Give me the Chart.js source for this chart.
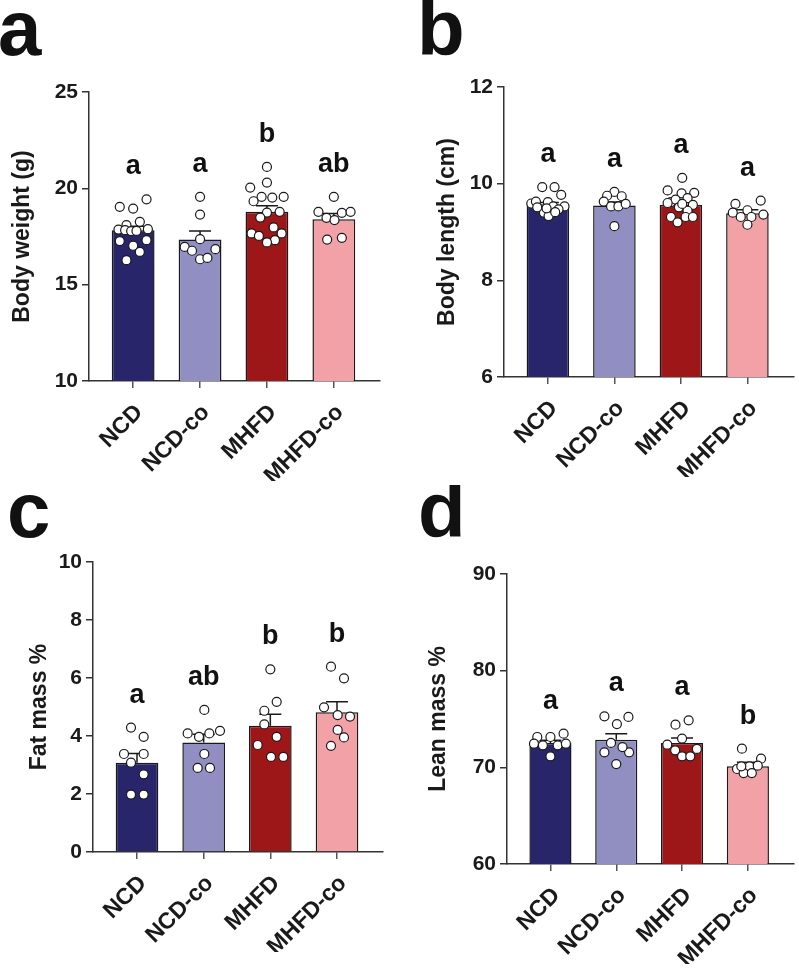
<!DOCTYPE html>
<html>
<head>
<meta charset="utf-8">
<script src="https://cdn.jsdelivr.net/npm/chart.js@4.4.1/dist/chart.umd.min.js"></script>
<style>
    body { margin: 0; background: #fff; width: 799px; height: 970px; position: relative; overflow: hidden; }
    canvas { position: absolute; }
</style>
</head>
<body>
<canvas id="graf-a" width="400" height="495" style="left:0;top:0"></canvas>
<canvas id="graf-b" width="399" height="495" style="left:400px;top:0"></canvas>
<canvas id="graf-c" width="400" height="485" style="left:0;top:485px"></canvas>
<canvas id="graf-d" width="399" height="485" style="left:400px;top:485px"></canvas>
<script>
// Grupos e cores
const GRUPOS = ['NCD', 'NCD-co', 'MHFD', 'MHFD-co'];
const CORES = ['#28256b', '#918fc2', '#9d1719', '#f2a2a6'];

// a - Body weight (g)
const pesoMedia = [17.83, 17.34, 18.78, 18.40];
const pesoEpm = [0.20, 0.44, 0.31, 0.29];
const pesoLetras = ['a', 'a', 'b', 'ab'];
const pesoPontos = [
    [19.04, 18.95, 19.43, 18.09, 18.26, 17.86, 17.83, 17.78, 17.79, 17.88, 17.26, 17.31, 17.02, 16.70, 16.27],
    [19.56, 18.64, 17.36, 16.96, 16.76, 16.84, 16.32, 16.39],
    [21.11, 20.30, 20.04, 19.56, 19.52, 19.56, 19.33, 18.74, 18.78, 18.48, 17.97, 17.66, 17.53, 17.66, 17.31, 17.19],
    [19.56, 18.78, 18.73, 18.78, 18.47, 18.35, 17.34, 17.43]
];
const pesoDesvio = [
    [-0.20, 0, 0.20, -0.10, 0.10, -0.22, -0.12, -0.03, 0.05, 0.22, -0.20, 0.20, 0, 0.10, -0.10],
    [0, 0, 0, -0.23, -0.12, 0.23, 0, 0.11],
    [0, 0, -0.25, -0.08, 0.08, 0.25, -0.20, 0, 0.19, -0.10, 0.10, -0.23, -0.12, 0.22, 0.12, 0],
    [0, -0.23, 0.12, 0.25, -0.11, 0.01, -0.10, 0.12]
];

// b - Body length (cm)
const compMedia = [9.56, 9.55, 9.56, 9.39];
const compEpm = [0.05, 0.07, 0.06, 0.07];
const compLetras = ['a', 'a', 'a', 'a'];
const compPontos = [
    [9.93, 9.93, 9.77, 9.59, 9.63, 9.62, 9.47, 9.53, 9.53, 9.47, 9.40, 9.33, 9.41, 9.51, 9.49],
    [9.83, 9.75, 9.74, 9.63, 9.53, 9.53, 9.58, 9.12],
    [10.12, 9.86, 9.80, 9.81, 9.62, 9.67, 9.70, 9.56, 9.51, 9.44, 9.31, 9.20, 9.31, 9.31, 9.58, 9.60],
    [9.65, 9.58, 9.40, 9.45, 9.31, 9.31, 9.36, 9.15]
];
const compDesvio = [
    [-0.085, 0.10, 0.20, -0.25, -0.18, 0, -0.10, 0.08, 0.25, 0.16, -0.06, 0.01, 0.11, -0.16, -0.02],
    [0, -0.11, 0.11, -0.16, -0.05, 0.06, 0.17, 0],
    [0.02, -0.20, 0.01, 0.20, -0.15, -0.08, 0.10, 0.18, -0.03, 0.10, -0.15, -0.05, 0.07, 0.18, 0.02, -0.20],
    [0.20, -0.18, -0.22, 0, -0.10, 0.06, 0.24, 0]
];

// c - Fat mass %
const gorduraMedia = [3.08, 3.78, 4.35, 4.82];
const gorduraEpm = [0.32, 0.28, 0.40, 0.36];
const gorduraLetras = ['a', 'ab', 'b', 'b'];
const gorduraPontos = [
    [4.29, 3.97, 3.38, 3.38, 3.08, 2.68, 1.98, 1.98],
    [4.90, 4.09, 3.97, 4.09, 4.18, 3.38, 2.90, 2.90],
    [6.30, 5.18, 4.87, 4.40, 3.97, 3.69, 3.28, 3.28],
    [6.39, 5.99, 4.99, 4.72, 4.67, 4.21, 3.95, 3.66]
];
const gorduraDesvio = [
    [-0.09, 0.10, -0.195, 0.10, -0.09, 0.10, -0.09, 0.10],
    [0.01, -0.24, -0.07, 0.085, 0.245, 0.01, -0.09, 0.095],
    [0, 0.095, -0.09, -0.09, 0.095, -0.19, 0.01, 0.195],
    [-0.09, 0.105, -0.195, 0.01, 0.195, 0.01, 0.105, -0.09]
];

// d - Lean mass %
const magraMedia = [72.52, 72.86, 72.52, 70.10];
const magraEpm = [0.27, 0.62, 0.51, 0.42];
const magraLetras = ['a', 'a', 'a', 'b'];
const magraPontos = [
    [73.14, 73.14, 73.48, 72.45, 72.28, 72.28, 72.45, 71.14],
    [75.28, 75.21, 74.48, 71.55, 71.55, 72.52, 72.10, 70.34],
    [74.86, 74.41, 72.97, 72.34, 71.76, 71.90, 71.14, 71.14],
    [71.93, 70.90, 69.83, 70.10, 70.17, 69.41, 69.41, 70.10]
];
const magraDesvio = [
    [-0.20, 0, 0.20, -0.25, -0.115, 0.11, 0.235, 0],
    [-0.18, 0.185, 0.01, -0.18, 0.195, -0.08, 0.095, 0],
    [0.10, -0.10, 0, -0.225, -0.105, 0.225, 0, 0.125],
    [-0.09, 0.20, -0.165, 0.025, 0.15, -0.065, 0.06, -0.10]
];

const FONTE = "'Liberation Sans', Arial, sans-serif";
const PRETO = '#1a1a1a';
Chart.defaults.font.family = FONTE;
Chart.defaults.color = PRETO;

/**
 * Plugin de cada painel: barras de erro (EPM), letras de significância e letra do painel.
 */
function criarPluginPainel(cfg) {
    return {
        id: 'painel-' + cfg.letraPainel,
        afterDatasetDraw(chart, args) {
            if (args.index !== 0) return;
            const { ctx, scales: { x, y } } = chart;
            ctx.save();
            ctx.strokeStyle = PRETO;
            ctx.lineWidth = 1.5;
            cfg.medias.forEach((m, i) => {
                const px = x.getPixelForValue(i);
                const y0 = y.getPixelForValue(m);
                const y1 = y.getPixelForValue(m + cfg.epm[i]);
                ctx.beginPath();
                ctx.moveTo(px, y0);
                ctx.lineTo(px, y1);
                ctx.moveTo(px - 11, y1);
                ctx.lineTo(px + 11, y1);
                ctx.stroke();
            });
            ctx.restore();
        },
        afterDraw(chart) {
            const { ctx, scales: { x, y } } = chart;
            ctx.save();
            ctx.fillStyle = '#111';
            ctx.textAlign = 'center';
            ctx.textBaseline = 'alphabetic';
            ctx.font = `bold 27px ${FONTE}`;
            cfg.letras.forEach((l, i) => {
                const topo = Math.max(...cfg.pontos[i]);
                ctx.fillText(l, x.getPixelForValue(i), y.getPixelForValue(topo) - 25);
            });
            // letra do painel
            ctx.textAlign = 'left';
            ctx.font = `bold 78px ${FONTE}`;
            ctx.fillText(cfg.letraPainel, cfg.letraX, cfg.letraY);
            ctx.restore();
        }
    };
}

/**
 * Renderiza um painel (barras + pontos individuais).
 */
function renderizarPainel(canvasId, cfg) {
    const ctx = document.getElementById(canvasId).getContext('2d');
    const pontos = [];
    cfg.pontos.forEach((lista, i) => {
        lista.forEach((v, j) => pontos.push({ x: i + cfg.desvio[i][j], y: v }));
    });

    return new Chart(ctx, {
        type: 'bar',
        data: {
            datasets: [{
                type: 'bar',
                data: cfg.medias.map((m, i) => ({ x: i, y: m })),
                backgroundColor: CORES,
                borderColor: PRETO,
                borderWidth: 1.5,
                borderSkipped: 'start',
                barPercentage: 0.64,
                categoryPercentage: 1,
                clip: 0,
                order: 1
            }, {
                type: 'scatter',
                data: pontos,
                pointRadius: 4.5,
                pointBackgroundColor: '#fff',
                pointBorderColor: PRETO,
                pointBorderWidth: 1.2,
                order: 0
            }]
        },
        options: {
            responsive: false,
            animation: false,
            layout: { padding: cfg.padding },
            plugins: {
                legend: { display: false },
                tooltip: { enabled: false }
            },
            scales: {
                x: {
                    type: 'linear',
                    offset: false,
                    min: -0.66,
                    max: 3.69,
                    afterBuildTicks: s => { s.ticks = GRUPOS.map((g, i) => ({ value: i })); },
                    afterFit: s => { s.height = 100; },
                    ticks: {
                        autoSkip: false,
                        minRotation: 45,
                        maxRotation: 45,
                        padding: 11,
                        labelOffset: 6,
                        color: PRETO,
                        font: { size: 23, weight: 'bold' },
                        callback: v => GRUPOS[v]
                    },
                    grid: { offset: false, drawOnChartArea: false, drawTicks: true, tickLength: 7, color: '#555', lineWidth: 1.5 },
                    border: { color: '#333', width: 1.5 }
                },
                y: {
                    min: cfg.yMin,
                    max: cfg.yMax,
                    afterFit: s => { s.width = cfg.larguraY; },
                    ticks: {
                        stepSize: cfg.passo,
                        padding: 4,
                        color: PRETO,
                        font: { size: 21, weight: 'bold' }
                    },
                    grid: { drawOnChartArea: false, drawTicks: true, tickLength: 7, color: '#333', lineWidth: 1.5 },
                    border: { color: '#333', width: 1.5 },
                    title: {
                        display: true,
                        text: cfg.tituloY,
                        color: PRETO,
                        font: { size: 23, weight: 'bold' },
                        padding: { top: cfg.tituloPad, bottom: 0 }
                    }
                }
            }
        },
        plugins: [criarPluginPainel(cfg)]
    });
}

renderizarPainel('graf-a', {
    medias: pesoMedia, epm: pesoEpm, letras: pesoLetras, pontos: pesoPontos, desvio: pesoDesvio,
    yMin: 10, yMax: 25, passo: 5, tituloY: 'Body weight (g)',
    larguraY: 89, tituloPad: 9,
    padding: { left: 0, top: 92, right: 20, bottom: 14 },
    letraPainel: 'a', letraX: -2, letraY: 55
});

renderizarPainel('graf-b', {
    medias: compMedia, epm: compEpm, letras: compLetras, pontos: compPontos, desvio: compDesvio,
    yMin: 6, yMax: 12, passo: 2, tituloY: 'Body length (cm)',
    larguraY: 104, tituloPad: 34,
    padding: { left: 0, top: 87, right: 4, bottom: 18 },
    letraPainel: 'b', letraX: 17, letraY: 55
});

renderizarPainel('graf-c', {
    medias: gorduraMedia, epm: gorduraEpm, letras: gorduraLetras, pontos: gorduraPontos, desvio: gorduraDesvio,
    yMin: 0, yMax: 10, passo: 2, tituloY: 'Fat mass %',
    larguraY: 93, tituloPad: 26,
    padding: { left: 0, top: 77, right: 17, bottom: 18 },
    letraPainel: 'c', letraX: 7, letraY: 52
});

renderizarPainel('graf-d', {
    medias: magraMedia, epm: magraEpm, letras: magraLetras, pontos: magraPontos, desvio: magraDesvio,
    yMin: 60, yMax: 90, passo: 10, tituloY: 'Lean mass %',
    larguraY: 107, tituloPad: 25,
    padding: { left: 0, top: 89, right: 2, bottom: 6 },
    letraPainel: 'd', letraX: 18, letraY: 52
});
</script>
</body>
</html>
